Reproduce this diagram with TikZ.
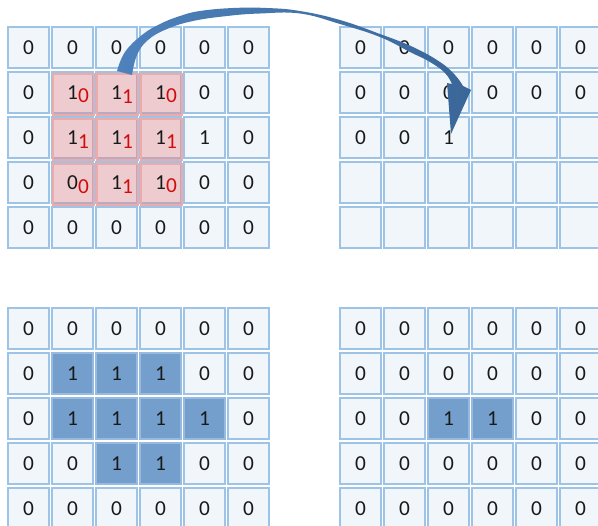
\documentclass[tikz,border=0pt]{standalone}
\usepackage{fontspec}
\setmainfont{Carlito}
\definecolor{cellfill}{RGB}{241,246,251}
\definecolor{cellline}{RGB}{157,195,230}
\definecolor{hitfill}{RGB}{116,159,204}
\definecolor{hitline}{RGB}{150,186,224}
\definecolor{kernred}{RGB}{210,10,10}
\definecolor{maskfill}{RGB}{235,125,125}
\definecolor{maskline}{RGB}{236,170,170}
\definecolor{arrowlight}{RGB}{78,130,188}
\definecolor{arrowdark}{RGB}{58,102,152}
\definecolor{digit}{RGB}{25,25,25}
\tikzset{
  cell/.style={draw=cellline, fill=cellfill, line width=1pt, minimum size=30.75pt,
    inner sep=0pt, text=digit, font=\fontsize{16}{18}\selectfont},
  cell0/.style={cell},
  cell1/.style={cell, fill=hitfill, draw=hitline},
  mask/.style={draw=maskline, fill=maskfill, fill opacity=0.35, line width=1pt,
    minimum size=30.75pt, inner sep=0pt},
  kval/.style={inner sep=0pt, text=digit, font=\fontsize{16}{18}\selectfont},
  arrowbody/.style={left color=arrowlight, right color=arrowdark, draw=none},
}
\newcommand{\kv}[2]{#1\textcolor{kernred}{\raisebox{-2.5pt}{#2}}}
\begin{document}
\begin{tikzpicture}[x=0.75pt, y=-0.75pt]
    \useasboundingbox (0,0) rectangle (598,525);
    \clip (0,0) rectangle (598,525);
    % Input with kernel, top left
    \foreach \row [count=\i from 0] in {{0,0,0,0,0,0},{0,{},{},{},0,0},{0,{},{},{},1,0},{0,{},{},{},0,0},{0,0,0,0,0,0}}
        \foreach \v [count=\j from 0] in \row
            \node[cell] (in\i\j) at (28.5+44*\j, 47.5+45*\i) {\v};
    \foreach \i in {1,2,3}
        \foreach \j in {1,2,3}
            \node[mask] (m\i\j) at ([shift={(1,2)}]in\i\j.center) {};
    \foreach \i/\j/\a/\b in {1/1/1/0, 1/2/1/1, 1/3/1/0, 2/1/1/1, 2/2/1/1, 2/3/1/1, 3/1/0/0, 3/2/1/1, 3/3/1/0}
        \node[kval] (k\i\j) at ([shift={(4.5,0)}]m\i\j.center) {\kv{\a}{\b}};
    % Output so far, top right
    \foreach \row [count=\i from 0] in {{0,0,0,0,0,0},{0,0,0,0,0,0},{0,0,1,{},{},{}},{{},{},{},{},{},{}},{{},{},{},{},{},{}}}
        \foreach \v [count=\j from 0] in \row
            \node[cell] (out\i\j) at (360.5+44*\j, 47.5+45*\i) {\v};
    % Input, bottom left
    \foreach \row [count=\i from 0] in {{0,0,0,0,0,0},{0,1,1,1,0,0},{0,1,1,1,1,0},{0,0,1,1,0,0},{0,0,0,0,0,0}}
        \foreach \v [count=\j from 0] in \row
            \node[cell\v] (a\i\j) at (28.5+44*\j, 328.5+45*\i) {\v};
    % Result, bottom right
    \foreach \row [count=\i from 0] in {{0,0,0,0,0,0},{0,0,0,0,0,0},{0,0,1,1,0,0},{0,0,0,0,0,0},{0,0,0,0,0,0}}
        \foreach \v [count=\j from 0] in \row
            \node[cell\v] (b\i\j) at (360.5+44*\j, 328.5+45*\i) {\v};
    % Curved arrow
    \path[arrowbody] plot[smooth, tension=0.7] coordinates {(117,71) (125,52) (142,35) (160,24) (180,16) (200,11) (233,8) (267,8) (300,11) (340,20) (380,34) (413,47) (440,62) (455,75) (463,86)}
        -- (471,90) -- (451,134) -- (447,83)
        -- plot[smooth, tension=0.7] coordinates {(452,84) (445,73) (430,62) (410,52) (380,37) (340,24) (300,13.5) (260,13.5) (227,16) (193,21) (167,29) (148,40) (137,55) (132,75)}
        -- cycle;
\end{tikzpicture}
\end{document}
